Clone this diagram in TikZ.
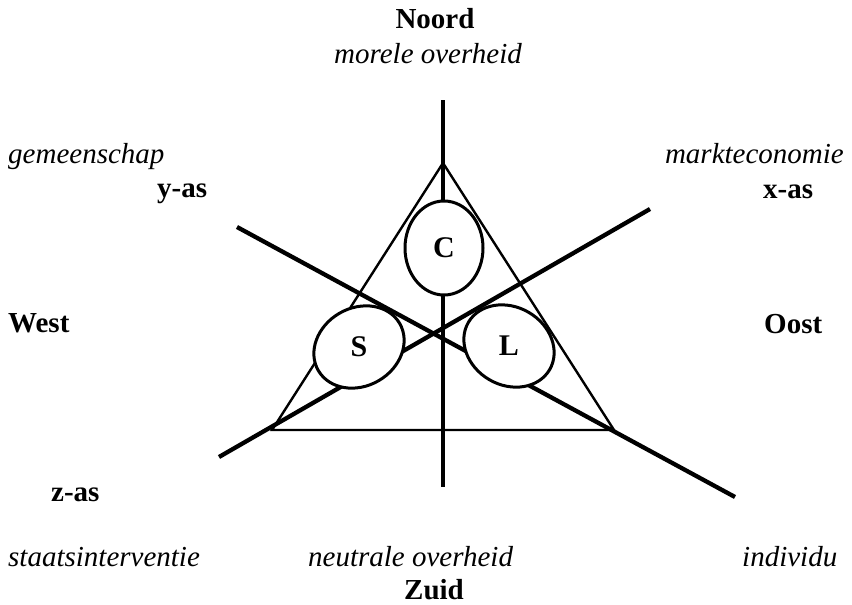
\documentclass[tikz,border=0pt]{standalone}
\usepackage{fontspec}
\setmainfont{Liberation Serif}
\usetikzlibrary{shapes.geometric}
\begin{document}
\begin{tikzpicture}[x=1pt,y=-1pt,
  axisline/.style={line width=4.3pt},
  triline/.style={line width=2.4pt, line join=miter},
  blob/.style={ellipse, draw, line width=3pt, fill=white, inner sep=0pt,
     minimum width=94pt, minimum height=78pt},
  lbl/.style={inner sep=0pt, font=\fontsize{29}{34}\selectfont},
  bl/.style={lbl, font=\fontsize{29}{34}\selectfont\bfseries},
  it/.style={lbl, font=\fontsize{29}{34}\selectfont\itshape},
  letter/.style={inner sep=0pt, font=\fontsize{30}{34}\selectfont\bfseries}]
\useasboundingbox (0,0) rectangle (852,605);
% axes
\coordinate (vtop) at (443,100);
\coordinate (vbot) at (443,487);
\coordinate (ynw) at (237,227);
\coordinate (yse) at (735,497);
\coordinate (xsw) at (219,457);
\coordinate (xne) at (650,209);
\draw[axisline] (vtop) -- (vbot);
\draw[axisline] (ynw) -- (yse);
\draw[axisline] (xsw) -- (xne);
% triangle
\coordinate (tA) at (443,163);
\coordinate (tB) at (272,430);
\coordinate (tC) at (614,430);
\draw[triline] (tA) -- (tB) -- (tC) -- cycle;
% ellipses
\node[blob, rotate=90] (C) at (444,248) {};
\node[blob, rotate=30] (S) at (359,347) {};
\node[blob, rotate=-30] (L) at (509,346) {};
\node[letter] (Ct) at (C.center) {C};
\node[letter] (St) at (S.center) {S};
\node[letter] (Lt) at (L.center) {L};
% labels
\node[bl, anchor=base] (noord) at (435,28) {Noord};
\node[it, anchor=base] (moreel) at (428,63) {morele overheid};
\node[it, anchor=base west] (gem) at (8,163) {gemeenschap};
\node[bl, anchor=base west] (yas) at (157,197) {y-as};
\node[bl, anchor=base west] (west) at (8,332) {West};
\node[it, anchor=base east] (markt) at (844,163) {markteconomie};
\node[bl, anchor=base west] (xas) at (763,198) {x-as};
\node[bl, anchor=base west] (oost) at (764,333) {Oost};
\node[bl, anchor=base west] (zas) at (51,501) {z-as};
\node[it, anchor=base west] (staat) at (8,566) {staatsinterventie};
\node[it, anchor=base west] (neutr) at (308,566) {neutrale overheid};
\node[it, anchor=base west] (indiv) at (742,566) {individu};
\node[bl, anchor=base west] (zuid) at (404,599) {Zuid};
\end{tikzpicture}
\end{document}
